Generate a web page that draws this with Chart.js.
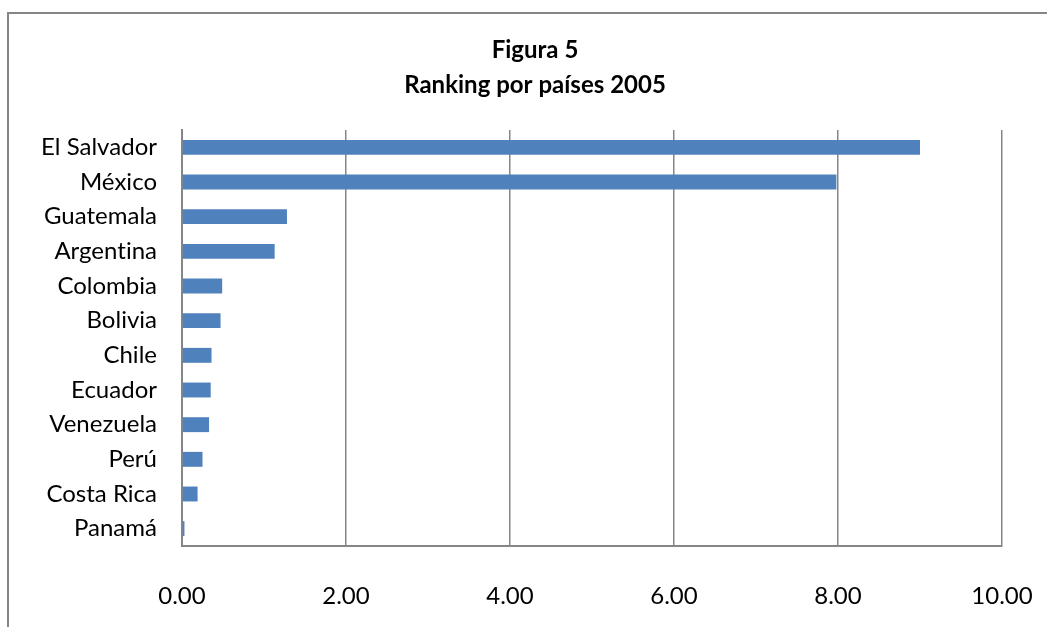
<!DOCTYPE html>
<html>
<head>
<meta charset="utf-8">
<script src="https://cdn.jsdelivr.net/npm/chart.js@4.4.0/dist/chart.umd.min.js"></script>
<style>
  html, body { margin: 0; padding: 0; background: #fff; overflow: hidden; }
  #frame {
    position: absolute; left: 7px; top: 12px;
    width: 1100px; height: 700px;
    border: 2px solid #868686; box-sizing: border-box;
  }
  #wrap { position: absolute; left: 0; top: 0; width: 1047px; height: 627px; }
</style>
</head>
<body>
<div id="frame"></div>
<div id="wrap"><canvas id="rankingChart"></canvas></div>
<script>
  const paises = ['El Salvador', 'México', 'Guatemala', 'Argentina', 'Colombia', 'Bolivia',
                  'Chile', 'Ecuador', 'Venezuela', 'Perú', 'Costa Rica', 'Panamá'];
  const valores = [9.00, 7.98, 1.28, 1.13, 0.49, 0.47, 0.36, 0.35, 0.33, 0.25, 0.19, 0.03];
  const tituloLineas = ['Figura 5', 'Ranking por países 2005'];
  const ejeMin = 0;
  const ejeMax = 10;
  const ejePaso = 2;

  const FONT = 'Lato, "Open Sans", sans-serif';
  const GRIS = '#868686';

  // title drawn by hand so it can sit where the original one sits
  const tituloPlugin = {
    id: 'tituloFigura',
    beforeDraw(chart) {
      // tiny spacing keeps Lato from joining "ti" into a ligature
      chart.ctx.letterSpacing = '0.01px';
    },
    afterDraw(chart) {
      const c = chart.ctx;
      c.save();
      c.fillStyle = '#000';
      c.font = 'bold 24px ' + FONT;
      c.textAlign = 'center';
      c.textBaseline = 'middle';
      c.fillText(tituloLineas[0], 535, 50);
      c.fillText(tituloLineas[1], 535, 85);
      c.restore();
    }
  };

  function initializeChart() {
    const ctx = document.getElementById('rankingChart').getContext('2d');
    new Chart(ctx, {
      type: 'bar',
      data: {
        labels: paises,
        datasets: [{
          label: 'Ranking',
          data: valores,
          backgroundColor: '#4F81BD',
          borderWidth: 0,
          categoryPercentage: 1,
          barPercentage: 0.43
        }]
      },
      options: {
        indexAxis: 'y',
        responsive: true,
        maintainAspectRatio: false,
        animation: { duration: 0 },
        layout: { padding: { left: 0, right: 45, top: 130, bottom: 0 } },
        plugins: {
          legend: { display: false },
          tooltip: { enabled: false },
          title: { display: false }
        },
        scales: {
          x: {
            min: ejeMin,
            max: ejeMax,
            ticks: {
              stepSize: ejePaso,
              color: '#000',
              padding: 0,
              font: { family: FONT, size: 24 },
              callback: function(value) {
                return parseFloat(value).toFixed(2);
              }
            },
            grid: {
              display: true, color: GRIS, lineWidth: 1.5,
              drawTicks: true, tickLength: 36, tickColor: 'rgba(0,0,0,0)'
            },
            border: { display: true, color: GRIS, width: 2 },
            afterFit: function(scale) { scale.height = 81; }
          },
          y: {
            ticks: {
              color: '#000',
              padding: 25,
              autoSkip: false,
              font: { family: FONT, size: 24 }
            },
            grid: { display: false, drawTicks: false },
            border: { display: true, color: GRIS, width: 2 },
            afterFit: function(scale) { scale.width = 182; }
          }
        }
      },
      plugins: [tituloPlugin]
    });
  }

  window.addEventListener('DOMContentLoaded', initializeChart);
</script>
</body>
</html>
